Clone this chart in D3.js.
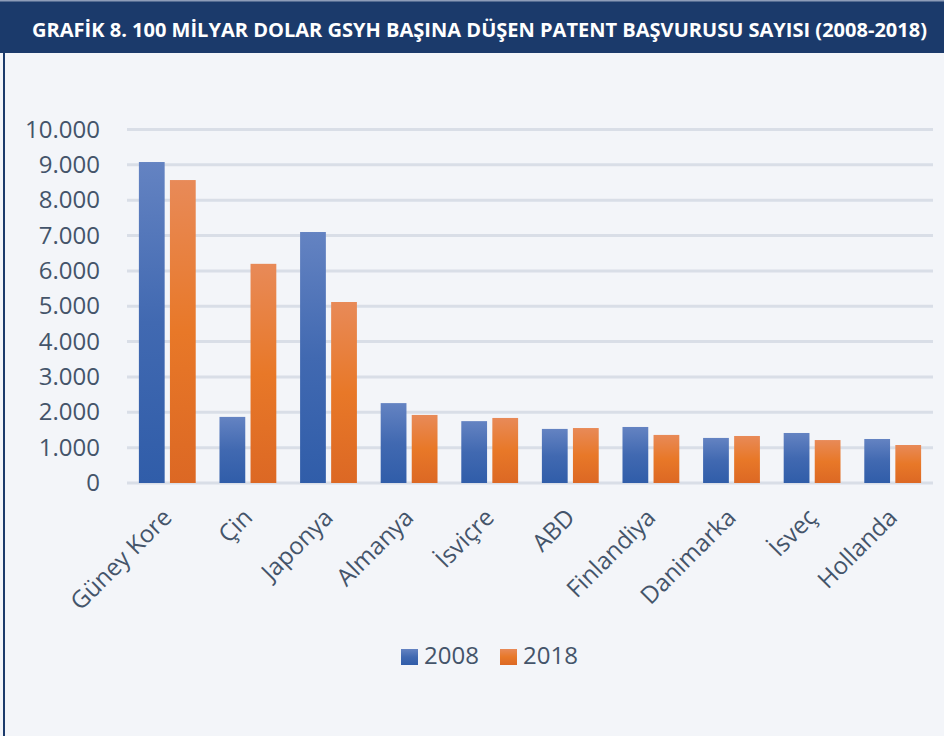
<!DOCTYPE html>
<html>
<head>
<meta charset="utf-8">
<script src="https://d3js.org/d3.v7.min.js"></script>
<style>
  body { margin: 0; background: #f3f5f9; }
  svg { display: block; }
</style>
</head>
<body>
<svg width="944" height="736"></svg>
<script>
const title = "GRAFİK 8. 100 MİLYAR DOLAR GSYH BAŞINA DÜŞEN PATENT BAŞVURUSU SAYISI (2008-2018)";
const countries = ["Güney Kore", "Çin", "Japonya", "Almanya", "İsviçre", "ABD", "Finlandiya", "Danimarka", "İsveç", "Hollanda"];
const years = ["2008", "2018"];
const values2008 = [9080, 1870, 7100, 2260, 1750, 1530, 1585, 1275, 1415, 1245];
const values2018 = [8570, 6200, 5120, 1925, 1840, 1555, 1360, 1330, 1215, 1075];
const yTicks = [0, 1000, 2000, 3000, 4000, 5000, 6000, 7000, 8000, 9000, 10000];

const svg = d3.select("svg");
const textColor = "#44546a";
const font = "'Open Sans', sans-serif";

// gradients for the bars
const defs = svg.append("defs");
function gradient(id, stops) {
  const g = defs.append("linearGradient").attr("id", id)
    .attr("x1", 0).attr("y1", 0).attr("x2", 0).attr("y2", 1);
  stops.forEach(s => g.append("stop").attr("offset", s[0]).attr("stop-color", s[1]));
}
gradient("gBlue", [[0, "#6483c2"], [0.5, "#4169b1"], [1, "#305da9"]]);
gradient("gOrange", [[0, "#e88a58"], [0.5, "#e87828"], [1, "#dc6824"]]);
const fills = { "2008": "url(#gBlue)", "2018": "url(#gOrange)" };

// frame + title bar
svg.append("rect").attr("x", 0).attr("y", 0).attr("width", 944).attr("height", 736).attr("fill", "#f3f5f9");
svg.append("rect").attr("x", 3).attr("y", 40).attr("width", 2).attr("height", 696).attr("fill", "#1b3a6b");
svg.append("rect").attr("x", 0).attr("y", 0).attr("width", 944).attr("height", 53).attr("fill", "#1b3a6b");
svg.append("rect").attr("x", 0).attr("y", 0).attr("width", 944).attr("height", 1.5).attr("fill", "#8d9cb8");
svg.append("text")
  .attr("x", 32).attr("y", 37)
  .attr("textLength", 895).attr("lengthAdjust", "spacingAndGlyphs")
  .attr("fill", "#ffffff")
  .style("font-family", font).style("font-weight", 700).style("font-size", "19.5px")
  .text(title);

// scales
const x0 = d3.scaleBand().domain(countries).range([127, 933]).paddingInner(0.295).paddingOuter(0.1475);
const x1 = d3.scaleBand().domain(years).range([0, x0.bandwidth()]).paddingInner(0.17);
const y = d3.scaleLinear().domain([0, 10000]).range([483, 129.5]);

const fmt = d => d3.format(",")(d).replace(/,/g, ".");

// gridlines
svg.append("g").selectAll("line").data(yTicks).join("line")
  .attr("x1", 127).attr("x2", 933)
  .attr("y1", d => y(d)).attr("y2", d => y(d))
  .attr("stroke", "#d9dee7").attr("stroke-width", 3);

// y axis labels
const yAxis = svg.append("g").attr("transform", "translate(100,0)")
  .call(d3.axisLeft(y).tickValues(yTicks).tickFormat(fmt).tickSize(0).tickPadding(0));
yAxis.select(".domain").remove();
yAxis.selectAll("text").attr("fill", textColor)
  .style("font-family", font).style("font-size", "24px");

// bars
const data = countries.map((c, i) => ({ country: c, vals: [
  { year: "2008", value: values2008[i] },
  { year: "2018", value: values2018[i] }
] }));

svg.append("g").selectAll("g").data(data).join("g")
  .attr("transform", d => `translate(${x0(d.country)},0)`)
  .selectAll("rect").data(d => d.vals).join("rect")
  .attr("x", d => x1(d.year))
  .attr("width", x1.bandwidth())
  .attr("y", d => y(d.value))
  .attr("height", d => y(0) - y(d.value))
  .attr("fill", d => fills[d.year]);

// x labels, rotated
svg.append("g").selectAll("text").data(countries).join("text")
  .attr("transform", d => `translate(${x0(d) + x0.bandwidth() / 2},${513}) rotate(-45)`)
  .attr("text-anchor", "end")
  .attr("dy", "0.35em")
  .attr("fill", textColor)
  .style("font-family", font).style("font-size", "24px")
  .text(d => d);

// legend
const legend = svg.append("g").attr("transform", "translate(401,649)");
const legendItems = legend.selectAll("g").data(years).join("g")
  .attr("transform", (d, i) => `translate(${i * 99},0)`);
legendItems.append("rect").attr("width", 17).attr("height", 16).attr("fill", d => fills[d]);
legendItems.append("text")
  .attr("x", 23).attr("y", 8).attr("dy", "0.3em")
  .attr("fill", textColor)
  .style("font-family", font).style("font-size", "24px")
  .text(d => d);
</script>
</body>
</html>
